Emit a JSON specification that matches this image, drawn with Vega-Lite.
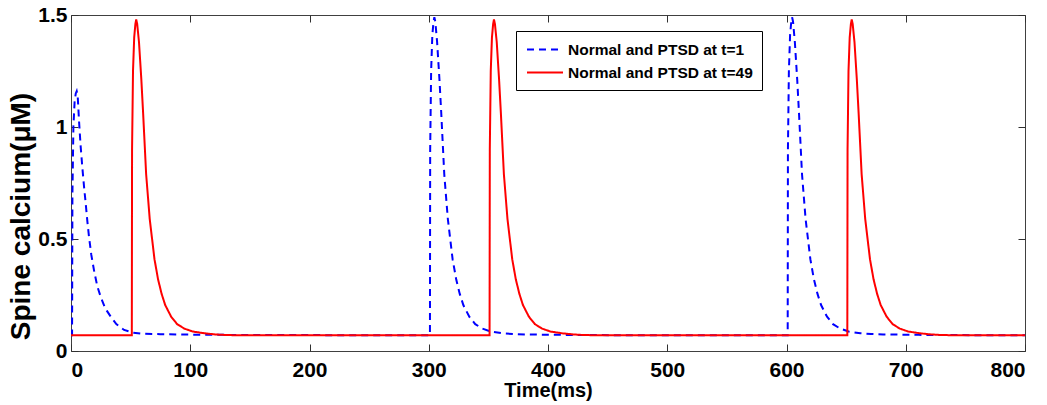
{
  "$schema": "https://vega.github.io/schema/vega-lite/v6.json",
  "width": 954,
  "height": 336,
  "autosize": {"type": "none"},
  "padding": {"left": 71, "top": 15, "right": 22, "bottom": 54},
  "background": "white",
  "config": {
    "view": {"stroke": "#404040", "strokeWidth": 1},
    "font": "Liberation Sans",
    "axis": {"grid": false, "domain": false, "tickColor": "#303030", "tickSize": -7, "tickWidth": 1,
      "labelFont": "Liberation Sans", "labelFontWeight": "bold", "labelColor": "black", "labelFontSize": 21,
      "titleFont": "Liberation Sans", "titleFontWeight": "bold", "titleColor": "black"},
    "legend": {"orient": "none", "legendX": 445, "legendY": 16, "title": null, "strokeColor": "black", "fillColor": "white", "padding": 8.5,
      "symbolType": "M-0.833,0L3.167,0", "symbolSize": 324, "symbolStrokeWidth": 2, "labelFontSize": 15.5, "labelFont": "Liberation Sans",
      "labelFontWeight": "bold", "labelColor": "black", "labelOffset": 23.5, "rowPadding": 4, "labelLimit": 400}
  },
  "data": {"values": [
    {"s":"t=1","t":0,"v":0.07},{"s":"t=1","t":0.9,"v":0.07},{"s":"t=1","t":1.2,"v":0.7},{"s":"t=1","t":2,"v":1.0},{"s":"t=1","t":3,"v":1.11},{"s":"t=1","t":4,"v":1.15},{"s":"t=1","t":4.8,"v":1.16},{"s":"t=1","t":5.6,"v":1.14},{"s":"t=1","t":6.7,"v":1.03},{"s":"t=1","t":8,"v":0.92},{"s":"t=1","t":9.5,"v":0.82},{"s":"t=1","t":11,"v":0.73},{"s":"t=1","t":12.3,"v":0.66},{"s":"t=1","t":13.7,"v":0.58},{"s":"t=1","t":15.1,"v":0.51},{"s":"t=1","t":17,"v":0.43},{"s":"t=1","t":19.3,"v":0.36},{"s":"t=1","t":22,"v":0.29},{"s":"t=1","t":25,"v":0.24},{"s":"t=1","t":28,"v":0.2},{"s":"t=1","t":30,"v":0.18},{"s":"t=1","t":33.4,"v":0.153},{"s":"t=1","t":38,"v":0.12},{"s":"t=1","t":44.5,"v":0.094},{"s":"t=1","t":52,"v":0.082},{"s":"t=1","t":60,"v":0.077},{"s":"t=1","t":75,"v":0.075},{"s":"t=1","t":100,"v":0.073},{"s":"t=1","t":130,"v":0.072},{"s":"t=1","t":200,"v":0.071},{"s":"t=1","t":301,"v":0.07},
    {"s":"t=1","t":301.2,"v":0.9},{"s":"t=1","t":302,"v":1.25},{"s":"t=1","t":303,"v":1.41},{"s":"t=1","t":304,"v":1.47},{"s":"t=1","t":304.7,"v":1.49},{"s":"t=1","t":305.5,"v":1.47},{"s":"t=1","t":307,"v":1.38},{"s":"t=1","t":309,"v":1.21},{"s":"t=1","t":310.5,"v":1.06},{"s":"t=1","t":313,"v":0.79},{"s":"t=1","t":316,"v":0.59},{"s":"t=1","t":318,"v":0.5},{"s":"t=1","t":320,"v":0.41},{"s":"t=1","t":323,"v":0.32},{"s":"t=1","t":326,"v":0.255},{"s":"t=1","t":329,"v":0.205},{"s":"t=1","t":334,"v":0.153},{"s":"t=1","t":339,"v":0.12},{"s":"t=1","t":345,"v":0.1},{"s":"t=1","t":352,"v":0.087},{"s":"t=1","t":362,"v":0.079},{"s":"t=1","t":371,"v":0.076},{"s":"t=1","t":381,"v":0.074},{"s":"t=1","t":411,"v":0.072},{"s":"t=1","t":440,"v":0.071},{"s":"t=1","t":500,"v":0.07},{"s":"t=1","t":601,"v":0.07},
    {"s":"t=1","t":601.2,"v":0.9},{"s":"t=1","t":602,"v":1.25},{"s":"t=1","t":603,"v":1.41},{"s":"t=1","t":604,"v":1.47},{"s":"t=1","t":604.7,"v":1.49},{"s":"t=1","t":605.5,"v":1.47},{"s":"t=1","t":607,"v":1.38},{"s":"t=1","t":609,"v":1.21},{"s":"t=1","t":610.5,"v":1.06},{"s":"t=1","t":613,"v":0.79},{"s":"t=1","t":616,"v":0.59},{"s":"t=1","t":618,"v":0.5},{"s":"t=1","t":620,"v":0.41},{"s":"t=1","t":623,"v":0.32},{"s":"t=1","t":626,"v":0.255},{"s":"t=1","t":629,"v":0.205},{"s":"t=1","t":634,"v":0.153},{"s":"t=1","t":639,"v":0.12},{"s":"t=1","t":645,"v":0.1},{"s":"t=1","t":652,"v":0.087},{"s":"t=1","t":662,"v":0.079},{"s":"t=1","t":671,"v":0.076},{"s":"t=1","t":681,"v":0.074},{"s":"t=1","t":711,"v":0.072},{"s":"t=1","t":740,"v":0.071},{"s":"t=1","t":800,"v":0.07},
    {"s":"t=49","t":0,"v":0.07},{"s":"t=49","t":51,"v":0.07},{"s":"t=49","t":51.2,"v":0.9},{"s":"t=49","t":52,"v":1.25},{"s":"t=49","t":53,"v":1.4},{"s":"t=49","t":54,"v":1.46},{"s":"t=49","t":54.7,"v":1.48},{"s":"t=49","t":55.5,"v":1.46},{"s":"t=49","t":57,"v":1.38},{"s":"t=49","t":59,"v":1.21},{"s":"t=49","t":60.5,"v":1.06},{"s":"t=49","t":63,"v":0.79},{"s":"t=49","t":66,"v":0.59},{"s":"t=49","t":68,"v":0.5},{"s":"t=49","t":70,"v":0.41},{"s":"t=49","t":73,"v":0.32},{"s":"t=49","t":76,"v":0.255},{"s":"t=49","t":79,"v":0.205},{"s":"t=49","t":84,"v":0.153},{"s":"t=49","t":89,"v":0.12},{"s":"t=49","t":95,"v":0.1},{"s":"t=49","t":102,"v":0.087},{"s":"t=49","t":112,"v":0.079},{"s":"t=49","t":121,"v":0.074},{"s":"t=49","t":131,"v":0.071},{"s":"t=49","t":161,"v":0.07},{"s":"t=49","t":351,"v":0.07},
    {"s":"t=49","t":351.2,"v":0.9},{"s":"t=49","t":352,"v":1.25},{"s":"t=49","t":353,"v":1.4},{"s":"t=49","t":354,"v":1.46},{"s":"t=49","t":354.7,"v":1.48},{"s":"t=49","t":355.5,"v":1.46},{"s":"t=49","t":357,"v":1.38},{"s":"t=49","t":359,"v":1.21},{"s":"t=49","t":360.5,"v":1.06},{"s":"t=49","t":363,"v":0.79},{"s":"t=49","t":366,"v":0.59},{"s":"t=49","t":368,"v":0.5},{"s":"t=49","t":370,"v":0.41},{"s":"t=49","t":373,"v":0.32},{"s":"t=49","t":376,"v":0.255},{"s":"t=49","t":379,"v":0.205},{"s":"t=49","t":384,"v":0.153},{"s":"t=49","t":389,"v":0.12},{"s":"t=49","t":395,"v":0.1},{"s":"t=49","t":402,"v":0.087},{"s":"t=49","t":412,"v":0.079},{"s":"t=49","t":421,"v":0.074},{"s":"t=49","t":431,"v":0.071},{"s":"t=49","t":461,"v":0.07},{"s":"t=49","t":651,"v":0.07},
    {"s":"t=49","t":651.2,"v":0.9},{"s":"t=49","t":652,"v":1.25},{"s":"t=49","t":653,"v":1.4},{"s":"t=49","t":654,"v":1.46},{"s":"t=49","t":654.7,"v":1.48},{"s":"t=49","t":655.5,"v":1.46},{"s":"t=49","t":657,"v":1.38},{"s":"t=49","t":659,"v":1.21},{"s":"t=49","t":660.5,"v":1.06},{"s":"t=49","t":663,"v":0.79},{"s":"t=49","t":666,"v":0.59},{"s":"t=49","t":668,"v":0.5},{"s":"t=49","t":670,"v":0.41},{"s":"t=49","t":673,"v":0.32},{"s":"t=49","t":676,"v":0.255},{"s":"t=49","t":679,"v":0.205},{"s":"t=49","t":684,"v":0.153},{"s":"t=49","t":689,"v":0.12},{"s":"t=49","t":695,"v":0.1},{"s":"t=49","t":702,"v":0.087},{"s":"t=49","t":712,"v":0.079},{"s":"t=49","t":721,"v":0.074},{"s":"t=49","t":731,"v":0.071},{"s":"t=49","t":761,"v":0.07},{"s":"t=49","t":800,"v":0.07}
  ]},
  "layer": [
    {
      "mark": {"type": "line", "strokeWidth": 2, "clip": true},
      "encoding": {
        "x": {"field": "t", "type": "quantitative", "scale": {"domain": [0, 800], "nice": false},
          "axis": {"orient": "bottom", "values": [0,100,200,300,400,500,600,700,800], "labelPadding": 15, "title": "Time(ms)", "titleFontSize": 20, "titleY": 45, "titleBaseline": "alphabetic"}},
        "y": {"field": "v", "type": "quantitative", "scale": {"domain": [0, 1.5], "nice": false, "zero": false},
          "axis": {"orient": "left", "values": [0, 0.5, 1, 1.5], "format": ".1~f", "labelPadding": 11, "title": "Spine calcium(μM)", "titleFontSize": 28, "titleX": -42, "titleY": 201, "titleAngle": 270, "titleAlign": "center", "titleBaseline": "alphabetic"}},
        "color": {"field": "s", "type": "nominal", "sort": ["t=1", "t=49"],
          "scale": {"domain": ["t=1", "t=49"], "range": ["#0000ff", "#ff0000"]},
          "legend": {"labelExpr": "'Normal and PTSD at ' + datum.label + ' '"}},
        "strokeDash": {"field": "s", "type": "nominal", "sort": ["t=1", "t=49"],
          "scale": {"domain": ["t=1", "t=49"], "range": [[7, 5], [1, 0]]},
          "legend": {"labelExpr": "'Normal and PTSD at ' + datum.label + ' '"}}
      }
    },
    {
      "mark": {"type": "line", "opacity": 0},
      "encoding": {
        "x": {"field": "t", "type": "quantitative", "axis": {"orient": "top", "values": [0,100,200,300,400,500,600,700,800], "labels": false, "title": null}},
        "y": {"field": "v", "type": "quantitative", "axis": {"orient": "right", "values": [0, 0.5, 1, 1.5], "labels": false, "title": null}}
      }
    }
  ],
  "resolve": {"axis": {"x": "independent", "y": "independent"}}
}
